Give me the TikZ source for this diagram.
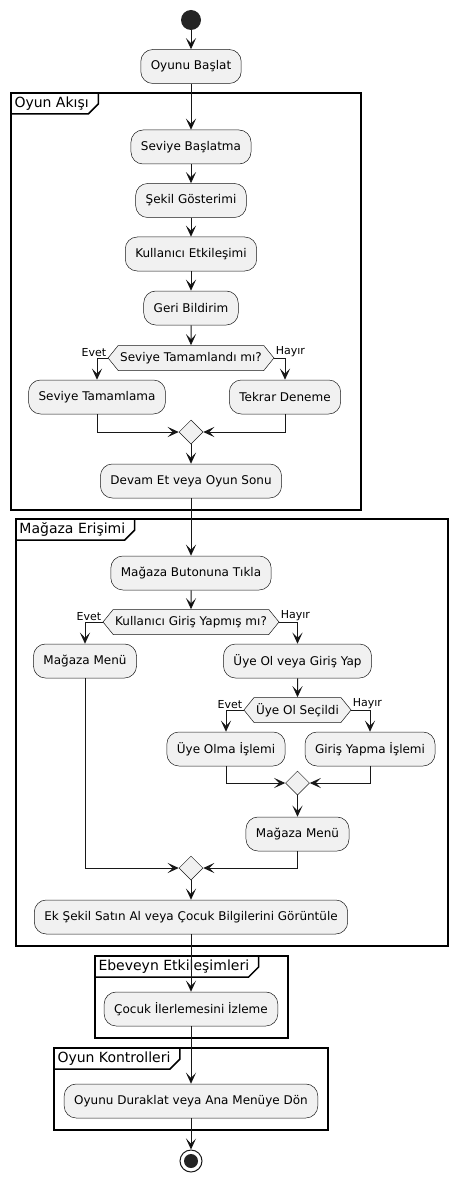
\documentclass[tikz,border=0pt]{standalone}
\usepackage{fontspec}
\setmainfont{DejaVu Sans}
\usetikzlibrary{arrows.meta,shapes.geometric,shapes.symbols}
\definecolor{boxfill}{HTML}{F1F1F1}
\definecolor{linegray}{HTML}{181818}

\begin{document}
\begin{tikzpicture}[x=1pt,y=1pt,->,>={Stealth[length=11pt,width=10pt,inset=5pt]},line width=1pt,
  action node/.style={rectangle,rounded corners=12pt,minimum height=34pt,inner xsep=10pt,fill=boxfill,draw=linegray,line width=0.5pt,font=\fontsize{12}{14}\selectfont},
  decision node/.style={signal,signal to=east and west,signal pointer angle=102,minimum height=25pt,inner xsep=2pt,inner ysep=0pt,fill=boxfill,draw=linegray,line width=0.5pt,font=\fontsize{12}{14}\selectfont},
  merge node/.style={diamond,minimum size=24pt,inner sep=0pt,fill=boxfill,draw=linegray,line width=0.5pt},
  branch label/.style={inner sep=1pt,font=\fontsize{11}{12}\selectfont},
  group label/.style={anchor=north west,inner xsep=3pt,inner ysep=0pt,minimum height=20pt,font=\fontsize{14}{16}\selectfont},
  frame/.style={-,line width=1.5pt,draw=black}]

  \useasboundingbox (0,0) rectangle (458,-1182);

  % groups
  \draw[frame] (11,-93) rectangle (361,-510);
  \node[group label] (g1) at (11,-93) {Oyun Akışı};
  \draw[frame] ([xshift=6pt]g1.north east) -- ([xshift=6pt,yshift=10pt]g1.south east) -- ([xshift=-4pt]g1.south east) -- (g1.south west);

  \draw[frame] (16,-519) rectangle (448,-946);
  \node[group label] (g2) at (16,-519) {Mağaza Erişimi};
  \draw[frame] ([xshift=6pt]g2.north east) -- ([xshift=6pt,yshift=10pt]g2.south east) -- ([xshift=-4pt]g2.south east) -- (g2.south west);

  \draw[frame] (95,-956) rectangle (288,-1038);
  \node[group label] (g3) at (95,-956) {Ebeveyn Etkileşimleri};
  \draw[frame] ([xshift=6pt]g3.north east) -- ([xshift=6pt,yshift=10pt]g3.south east) -- ([xshift=-4pt]g3.south east) -- (g3.south west);

  \draw[frame] (54,-1048) rectangle (328,-1130);
  \node[group label] (g4) at (54,-1048) {Oyun Kontrolleri};
  \draw[frame] ([xshift=6pt]g4.north east) -- ([xshift=6pt,yshift=10pt]g4.south east) -- ([xshift=-4pt]g4.south east) -- (g4.south west);

  % main flow
  \node[circle,fill=linegray!95!white,minimum size=20pt,inner sep=0pt] (0) at (191,-20) {};
  \node[action node] (1) [below of=0,node distance=46.5pt] {Oyunu Başlat};
  \node[action node] (2) [below of=1,node distance=80.5pt] {Seviye Başlatma};
  \node[action node] (3) [below of=2,node distance=53.5pt] {Şekil Gösterimi};
  \node[action node] (4) [below of=3,node distance=53.5pt] {Kullanıcı Etkileşimi};
  \node[action node] (5) [below of=4,node distance=54pt] {Geri Bildirim};
  \node[decision node] (6) [below of=5,node distance=50pt] {Seviye Tamamlandı mı?};
  \node[action node] (7) at (97,-397) {Seviye Tamamlama};
  \node[action node] (8) at (285,-397) {Tekrar Deneme};
  \node[merge node] (9) at (191,-432) {};
  \node[action node] (10) [below of=9,node distance=49pt] {Devam Et veya Oyun Sonu};

  \node[action node] (11) [below of=10,node distance=92pt] {Mağaza Butonuna Tıkla};
  \node[decision node] (12) [below of=11,node distance=49pt] {Kullanıcı Giriş Yapmış mı?};
  \node[action node] (13) at (85,-661) {Mağaza Menü};
  \node[action node] (14) at (297.5,-661) {Üye Ol veya Giriş Yap};
  \node[decision node] (15) [below of=14,node distance=49pt] {Üye Ol Seçildi};
  \node[action node] (16) at (226,-749) {Üye Olma İşlemi};
  \node[action node] (17) at (370,-749) {Giriş Yapma İşlemi};
  \node[merge node] (18) at (297.5,-783) {};
  \node[action node] (19) [below of=18,node distance=51pt] {Mağaza Menü};
  \node[merge node] (20) at (191,-868) {};
  \node[action node] (21) [below of=20,node distance=49pt] {Ek Şekil Satın Al veya Çocuk Bilgilerini Görüntüle};

  \node[action node] (22) [below of=21,node distance=92pt] {Çocuk İlerlemesini İzleme};
  \node[action node] (23) [below of=22,node distance=92pt] {Oyunu Duraklat veya Ana Menüye Dön};
  \node[circle,draw=linegray,line width=1pt,fill=white,minimum size=22pt,inner sep=0pt] (24) [below of=23,node distance=60pt] {};
  \fill[linegray!95!white] (24) circle (7pt);

  % branch labels
  \node[branch label,anchor=south east] (e1) at (6.west) {Evet};
  \node[branch label,anchor=south west] (h1) at (6.east) {Hayır};
  \node[branch label,anchor=south east] (e2) at (12.west) {Evet};
  \node[branch label,anchor=south west] (h2) at (12.east) {Hayır};
  \node[branch label,anchor=south east] (e3) at (15.west) {Evet};
  \node[branch label,anchor=south west] (h3) at (15.east) {Hayır};

  % connectors
  \path[draw=linegray]
    (0) edge (1)
    (1) edge (2)
    (2) edge (3)
    (3) edge (4)
    (4) edge (5)
    (5) edge (6)
    (9) edge (10)
    (10) edge (11)
    (11) edge (12)
    (14) edge (15)
    (20) edge (21)
    (21) edge (22)
    (22) edge (23)
    (23) edge (24);
  \draw[linegray] (6.west) -| (7);
  \draw[linegray] (6.east) -| (8);
  \draw[linegray] (7) |- (9);
  \draw[linegray] (8) |- (9);
  \draw[linegray] (12.west) -| (13);
  \draw[linegray] (12.east) -| (14);
  \draw[linegray] (15.west) -| (16);
  \draw[linegray] (15.east) -| (17);
  \draw[linegray] (16) |- (18);
  \draw[linegray] (17) |- (18);
  \draw[linegray] (18) -- (19);
  \draw[linegray] (13) |- (20);
  \draw[linegray] (19) |- (20);

\end{tikzpicture}
\end{document}
